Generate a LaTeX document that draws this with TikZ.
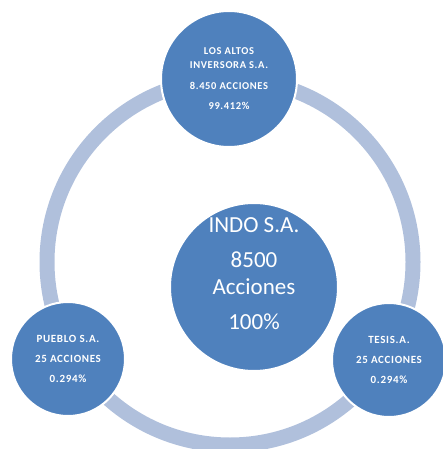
\documentclass[tikz,border=0pt]{standalone}
\usepackage{fontspec}
\setmainfont{Carlito}
\usepackage{xcolor}
\definecolor{shareblue}{RGB}{79,129,189}
\definecolor{ringblue}{RGB}{176,192,220}
\tikzset{%
	every owner/.style={
		circle,
		fill=shareblue,
		draw=white,
		line width=2pt,
		text=white,
		align=center,
		inner sep=0pt
	},
	owner small/.style={
		every owner,
		minimum size=114pt,
		font=\fontsize{11}{20}\selectfont\bfseries\addfontfeatures{LetterSpace=6}
	},
}

\begin{document}
\begin{tikzpicture}[x=1pt,y=-1pt]
			\useasboundingbox (0,0) rectangle (443,449);
			
			% Draw the ring
			\coordinate (ringc) at (230,262);
			\draw[ringblue, line width=15pt] (ringc) circle (183);
			
			% Draw the owners
			\node[every owner, minimum size=136pt,
			      font=\fontsize{10.5}{14}\selectfont\bfseries\addfontfeatures{LetterSpace=6}] (altos) at (229,79)
			      {LOS ALTOS\\INVERSORA S.A.\\[7pt]8.450 ACCIONES\\[6pt]99.412\%};
			\node[owner small] (pueblo) at (68,359) {PUEBLO S.A.\\25 ACCIONES\\0.294\%};
			\node[owner small] (tesis) at (389,360) {TESIS.A.\\25 ACCIONES\\0.294\%};
			
			% Draw the company
			\node[every owner, minimum size=168pt] (indo) at (254,287) {};
			\node[text=white, align=center, font=\fontsize{23}{27}\selectfont]
			      (indotext) at ([yshift=13pt]indo.center)
			      {INDO S.A.\\[8pt]8500\\Acciones\\[8pt]100\%};
		\end{tikzpicture}
\end{document}
